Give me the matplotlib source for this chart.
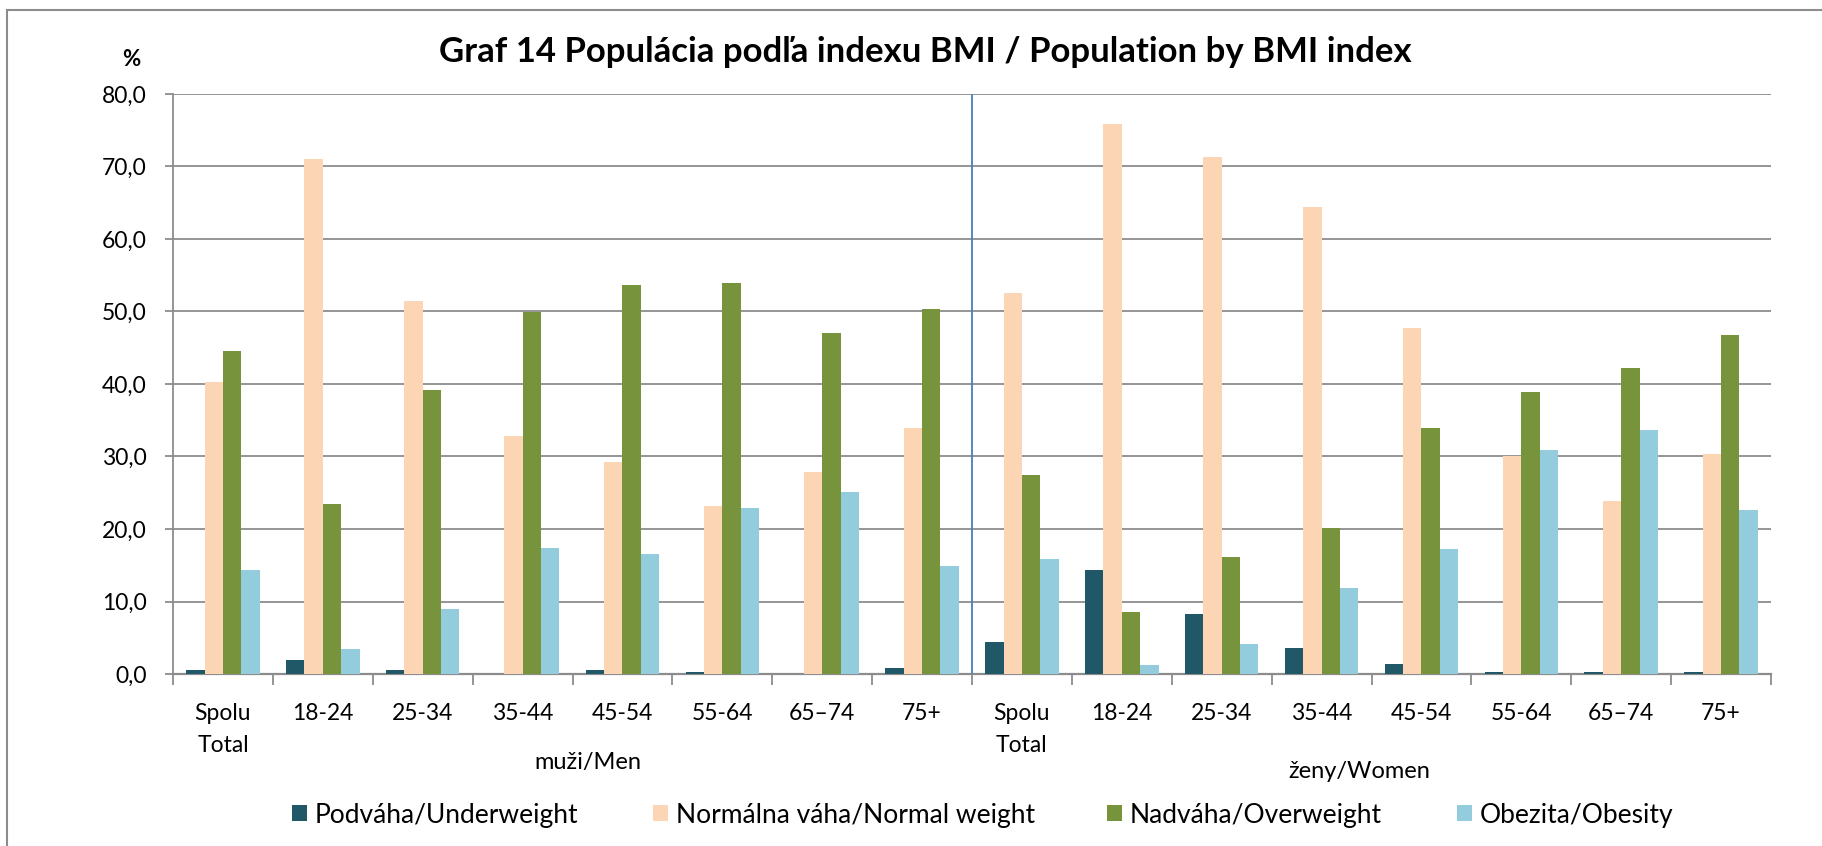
import matplotlib
matplotlib.use("Agg")
import matplotlib.pyplot as plt
import numpy as np
from matplotlib.patches import Patch, Rectangle
import matplotlib.transforms as mtransforms

plt.rcParams['font.family'] = ['Lato', 'DejaVu Sans']

# ---- data ----
age_labels = ["Spolu\nTotal", "18-24", "25-34", "35-44", "45-54", "55-64", "65–74", "75+"]
groups = ["muži/Men", "ženy/Women"]
series_names = ["Podváha/Underweight", "Normálna váha/Normal weight",
                "Nadváha/Overweight", "Obezita/Obesity"]

underweight_men = [0.6, 1.9, 0.6, 0.0, 0.6, 0.3, 0.0, 0.8]
normal_men = [40.3, 71.0, 51.5, 32.8, 29.3, 23.2, 27.9, 33.9]
overweight_men = [44.6, 23.5, 39.2, 49.9, 53.6, 53.9, 47.1, 50.4]
obesity_men = [14.4, 3.4, 8.9, 17.4, 16.6, 22.9, 25.1, 14.9]

underweight_women = [4.4, 14.4, 8.3, 3.6, 1.4, 0.3, 0.3, 0.3]
normal_women = [52.6, 75.9, 71.3, 64.4, 47.7, 30.1, 23.8, 30.3]
overweight_women = [27.4, 8.6, 16.1, 20.2, 33.9, 38.9, 42.2, 46.8]
obesity_women = [15.8, 1.2, 4.2, 11.9, 17.2, 30.9, 33.6, 22.6]

yticks = [0, 10, 20, 30, 40, 50, 60, 70, 80]
title = "Graf 14 Populácia podľa indexu BMI / Population by BMI index"

colors = ["#215868", "#FCD5B5", "#77933C", "#93CDDD"]

series = [underweight_men + underweight_women,
          normal_men + normal_women,
          overweight_men + overweight_women,
          obesity_men + obesity_women]
cats = age_labels + age_labels
n = len(cats)

W, H = 1822, 846
fig = plt.figure(figsize=(W / 100, H / 100), dpi=100)
fig.patch.set_facecolor("white")

ax = fig.add_axes([173 / W, 1 - 674 / H, (1771 - 173) / W, (674 - 94) / H])

x = np.arange(n)
bw = 0.184
for k, (vals, c) in enumerate(zip(series, colors)):
    ax.bar(x + (k - 1.5) * bw, vals, width=bw, color=c, zorder=3, linewidth=0)

ax.set_xlim(-0.5, n - 0.5)
ax.set_ylim(0, 80)
ax.set_yticks(yticks)
ax.set_yticklabels([f"{v:.1f}".replace(".", ",") for v in yticks], fontsize=16.5)
ax.yaxis.grid(True, color="#8C8C8C", linewidth=1.3, zorder=0)
ax.set_axisbelow(True)

ax.set_xticks(np.arange(-0.5, n, 1.0))
ax.set_xticklabels([])
ax.tick_params(axis="x", length=8, width=1.3, color="#8C8C8C", direction="out")
ax.tick_params(axis="y", length=6, width=1.3, color="#8C8C8C", direction="out", pad=13)

for s in ["top", "right"]:
    ax.spines[s].set_visible(False)
ax.spines["left"].set_color("#8C8C8C")
ax.spines["left"].set_linewidth(1.3)
ax.spines["bottom"].set_color("#8C8C8C")
ax.spines["bottom"].set_linewidth(1.6)

# divider between men and women
ax.plot([7.5, 7.5], [0, 80], color="#4A7EBB", linewidth=1.3, zorder=4)

# category labels (each line placed separately)
trans = mtransforms.blended_transform_factory(ax.transData, fig.transFigure)
line_y = [1 - 713 / H, 1 - 745 / H]
for i, lab in enumerate(cats):
    for j, part in enumerate(lab.split("\n")):
        ax.text(i, line_y[j], part, transform=trans, ha="center", va="center",
                fontsize=16.5)

# group labels
ax.text(3.65, 1 - 762 / H, groups[0], transform=trans, ha="center", va="center", fontsize=17)
ax.text(11.38, 1 - 771 / H, groups[1], transform=trans, ha="center", va="center", fontsize=17)

# title and unit
fig.text(925 / W, 1 - 62 / H, title, ha="center", va="baseline",
         fontsize=25, fontweight="bold")
fig.text(131 / W, 1 - 60 / H, "%", ha="center", va="center", fontsize=16, fontweight="bold")

# legend entries placed individually
legend_x = [292, 653, 1107, 1457]
for name, c, lx in zip(series_names, colors, legend_x):
    fig.legend(handles=[Patch(facecolor=c, edgecolor="none")], labels=[name],
               loc="center left", bbox_to_anchor=(lx / W, 1 - 815 / H),
               frameon=False, fontsize=19, handlelength=0.57, handleheight=0.57,
               handletextpad=0.3, borderpad=0, borderaxespad=0)

# outer chart-area border (top and left visible)
fig.add_artist(Rectangle((7 / W, -0.2), 1.5, 1.2 - 10 / H, transform=fig.transFigure,
                         fill=False, edgecolor="#8C8C8C", linewidth=1.5))

fig.savefig("out.png", dpi=100, facecolor="white")
